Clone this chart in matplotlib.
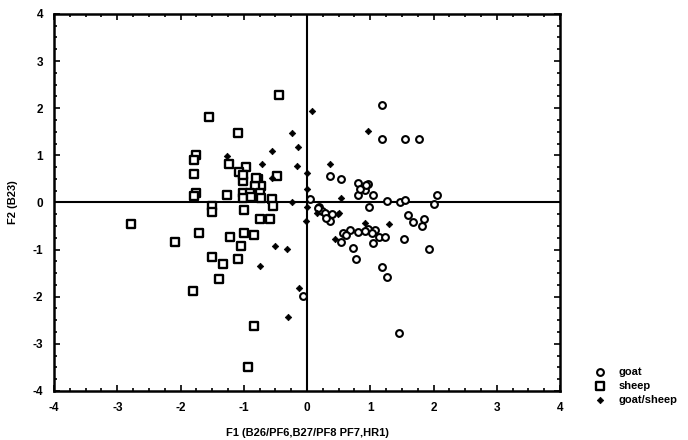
import matplotlib.pyplot as plt
from matplotlib.ticker import MultipleLocator

# goat
goat_x = [1.18, 1.18, 1.55, 1.77, 0.36, 0.54, 0.81, 0.97, 0.91, 0.81, 1.04, 2.06, 1.26,
          1.47, 1.55, 0.98, 2.01, 0.05, 1.60, 1.68, 1.85, 1.81, 0.19, 0.23, 0.39, 0.36,
          0.28, 0.57, 0.68, 0.80, 0.53, 0.97, 1.08, 1.02, 1.14, 1.24, 1.04, 0.73, 0.77,
          1.53, 1.93, 1.18, 1.26, 1.45, -0.06, 0.94, 0.84, 0.18, 0.62, 0.92, 0.30]
goat_y = [2.07, 1.35, 1.35, 1.35, 0.57, 0.50, 0.41, 0.39, 0.27, 0.16, 0.16, 0.16, 0.03,
          0.00, 0.05, -0.09, -0.03, 0.07, -0.27, -0.42, -0.35, -0.51, -0.09, -0.19, -0.24, -0.39,
          -0.23, -0.64, -0.58, -0.62, -0.83, -0.57, -0.58, -0.65, -0.74, -0.74, -0.87, -0.96, -1.19,
          -0.77, -0.99, -1.37, -1.59, -2.76, -1.98, 0.37, 0.28, -0.12, -0.70, -0.60, -0.32]

# sheep
sheep_x = [-0.45, -1.55, -1.09, -1.75, -1.78, -1.78, -1.75, -1.78, -1.23, -0.96, -1.07, -1.02,
           -0.77, -0.47, -0.72, -0.82, -1.01, -0.90, -0.74, -1.27, -1.02, -0.89, -0.72, -0.55,
           -1.51, -1.51, -0.99, -0.53, -0.74, -0.58, -2.78, -1.70, -0.99, -0.84, -1.22, -2.09,
           -1.04, -1.51, -1.33, -1.09, -1.39, -1.81, -0.84, -0.94, -1.01, -0.80]
sheep_y = [2.29, 1.82, 1.48, 1.00, 0.90, 0.60, 0.21, 0.14, 0.82, 0.76, 0.65, 0.46,
           0.49, 0.56, 0.34, 0.35, 0.21, 0.20, 0.20, 0.16, 0.09, 0.12, 0.09, 0.07,
           -0.07, -0.21, -0.17, -0.07, -0.36, -0.36, -0.45, -0.64, -0.64, -0.70, -0.73, -0.83,
           -0.92, -1.15, -1.31, -1.21, -1.62, -1.87, -2.62, -3.49, 0.58, 0.51]

# goat/sheep
mix_x = [-1.27, -0.71, -0.56, -0.23, -0.14, -0.16, 0.00, -0.55, 0.00, -0.23, 0.08, 0.36,
         0.97, 0.54, 0.00, -0.02, -0.51, -0.32, -0.74, -0.12, -0.30, 0.15, 0.49, 0.92,
         1.29, 0.45, 0.50]
mix_y = [0.99, 0.82, 1.10, 1.48, 1.18, 0.77, 0.62, 0.51, 0.29, 0.01, 1.95, 0.82,
         1.52, 0.10, -0.09, -0.39, -0.92, -0.99, -1.35, -1.82, -2.43, -0.22, -0.25, -0.44,
         -0.46, -0.78, -0.23]

plt.rcParams['font.family'] = ['Liberation Sans', 'DejaVu Sans']
plt.rcParams['font.weight'] = 'bold'
plt.rcParams['axes.unicode_minus'] = False

fig = plt.figure(figsize=(6.88, 4.4), dpi=100)
ax = fig.add_axes([0.0785, 0.1114, 0.7355, 0.857])

ax.axhline(0, color='black', lw=1.5, zorder=1)
ax.axvline(0, color='black', lw=1.5, zorder=1)

ax.scatter(goat_x, goat_y, s=24, marker='o', facecolor='white', edgecolor='black',
           linewidth=1.5, label='goat', zorder=3)
ax.scatter(sheep_x, sheep_y, s=28, marker='s', facecolor='white', edgecolor='black',
           linewidth=1.7, label='sheep', zorder=3)
ax.scatter(mix_x, mix_y, s=11, marker='D', facecolor='black', edgecolor='black',
           linewidth=0.5, label='goat/sheep', zorder=4)

ax.set_xlim(-4, 4)
ax.set_ylim(-4, 4)
ax.xaxis.set_major_locator(MultipleLocator(1))
ax.yaxis.set_major_locator(MultipleLocator(1))
ax.xaxis.set_minor_locator(MultipleLocator(0.25))
ax.yaxis.set_minor_locator(MultipleLocator(0.25))
ax.tick_params(which='both', direction='in', top=True, right=True, width=1.2)
ax.tick_params(which='major', length=4, labelsize=8.5, pad=8)
ax.tick_params(which='minor', length=2)
for s in ax.spines.values():
    s.set_linewidth(1.8)

ax.set_xlabel("F1 (B26/PF6,B27/PF8 PF7,HR1)", fontsize=8, fontweight='bold', labelpad=10)
ax.set_ylabel("F2 (B23)", fontsize=8, fontweight='bold', labelpad=10)

ax.legend(loc='lower left', bbox_to_anchor=(0.85, 0.07), bbox_transform=fig.transFigure,
          frameon=False, fontsize=8, handletextpad=0.6, labelspacing=0.35,
          borderaxespad=0)

fig.savefig('out.png', dpi=100)
